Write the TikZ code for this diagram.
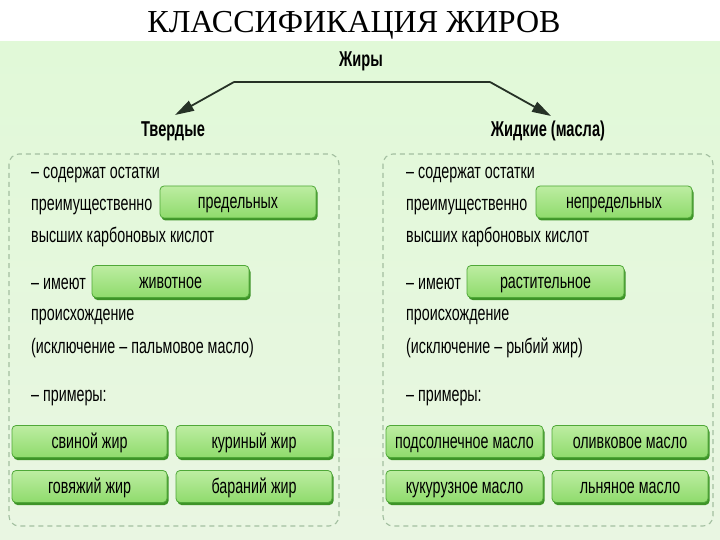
\documentclass[tikz,border=0pt]{standalone}
\usepackage{fontspec}
\setmainfont{Liberation Sans}[FakeStretch=0.68]
\newfontfamily\titlefont{Liberation Serif}
\usetikzlibrary{arrows.meta,shadows}
\definecolor{bgtop}{HTML}{E1F9D8}
\definecolor{bgbot}{HTML}{E9F6E2}
\definecolor{gtop}{HTML}{BDEDA2}
\definecolor{gbot}{HTML}{8FDB6C}
\definecolor{gborder}{HTML}{4FA838}
\definecolor{gshadow}{HTML}{3E9428}
\definecolor{dashc}{HTML}{A3BFA0}
\definecolor{arrc}{HTML}{263226}
\tikzset{
  gbox/.style={draw=gborder, line width=0.8pt, rounded corners=4pt,
    top color=gtop, bottom color=gbot, minimum height=32pt, inner sep=0pt,
    text height=14pt, text depth=0pt,
    font=\fontsize{21}{24}\selectfont,
    drop shadow={shadow xshift=1.5pt, shadow yshift=-2.5pt, fill=gshadow, opacity=1}},
  txt/.style={anchor=base west, inner sep=0pt, font=\fontsize{21}{24}\selectfont},
  hdr/.style={inner sep=0pt, font=\bfseries\fontsize{21.5}{24}\selectfont},
  dbox/.style={draw=dashc, line width=1.1pt, dash pattern=on 5pt off 4pt, rounded corners=10pt},
  arr/.style={draw=arrc, line width=1.8pt, -{Triangle[length=19pt,width=11pt]}}
}
\begin{document}
\begin{tikzpicture}[x=1pt,y=-1pt]
\useasboundingbox (0,0) rectangle (720,540);
\fill[white] (0,0) rectangle (720,42);
\shade[top color=bgtop, bottom color=bgbot] (0,42) rectangle (720,540);
\node[inner sep=0pt, font=\titlefont\fontsize{32}{34}\selectfont] (title) at (354,25) {КЛАССИФИКАЦИЯ ЖИРОВ};

\node[hdr] (zhiry) at (361,61) {Жиры};
\node[hdr] (tverd) at (173,131) {Твердые};
\node[hdr] (zhid) at (548,131) {Жидкие (масла)};
\coordinate (j1) at (234,82);
\coordinate (j2) at (490,82);
\coordinate (tl) at (175,115);
\coordinate (tr) at (551,116);
\draw[draw=arrc, line width=1.8pt] (j1) -- (j2);
\draw[arr] (j1) -- (tl);
\draw[arr] (j2) -- (tr);

% dashed containers
\draw[dbox] (9,154) rectangle (339,526);
\draw[dbox] (383,154) rectangle (713,526);

% left column
\node[txt] (l1) at (31,179) {– содержат остатки};
\node[txt] (l2) at (31,211) {преимущественно};
\node[gbox, minimum width=156pt] (lb1) at (238,202) {предельных};
\node[txt] (l3) at (31,242) {высших карбоновых кислот};
\node[txt] (l4) at (31,289) {– имеют};
\node[gbox, minimum width=157pt] (lb2) at (170.5,281.5) {животное};
\node[txt] (l5) at (31,320) {происхождение};
\node[txt] (l6) at (31,353) {(исключение – пальмовое масло)};
\node[txt] (l7) at (31,401) {– примеры:};
\node[gbox, minimum width=155pt] (le1) at (89.5,441.5) {свиной жир};
\node[gbox, minimum width=156pt] (le2) at (254,441.5) {куриный жир};
\node[gbox, minimum width=155pt] (le3) at (89.5,486.5) {говяжий жир};
\node[gbox, minimum width=156pt] (le4) at (254,486.5) {бараний жир};

% right column
\node[txt] (r1) at (406,179) {– содержат остатки};
\node[txt] (r2) at (406,211) {преимущественно};
\node[gbox, minimum width=156pt] (rb1) at (614,202) {непредельных};
\node[txt] (r3) at (406,242) {высших карбоновых кислот};
\node[txt] (r4) at (406,289) {– имеют};
\node[gbox, minimum width=157pt] (rb2) at (545.5,281.5) {растительное};
\node[txt] (r5) at (406,320) {происхождение};
\node[txt] (r6) at (406,353) {(исключение – рыбий жир)};
\node[txt] (r7) at (406,401) {– примеры:};
\node[gbox, minimum width=157pt] (re1) at (464.5,441.5) {подсолнечное масло};
\node[gbox, minimum width=156pt] (re2) at (630,441.5) {оливковое масло};
\node[gbox, minimum width=157pt] (re3) at (464.5,486.5) {кукурузное масло};
\node[gbox, minimum width=156pt] (re4) at (630,486.5) {льняное масло};
\end{tikzpicture}
\end{document}
